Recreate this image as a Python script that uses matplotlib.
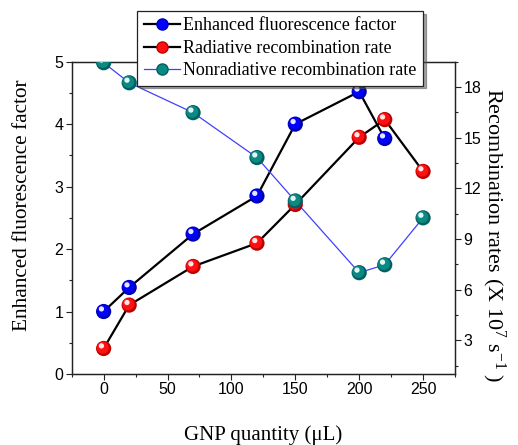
import matplotlib
matplotlib.use('Agg')
import matplotlib.pyplot as plt
from matplotlib import transforms
from matplotlib.ticker import MultipleLocator
from matplotlib.lines import Line2D

# ---- data ----
gnp_enh = [0, 20, 70, 120, 150, 200, 220]
enh_factor = [1.0, 1.385, 2.24, 2.85, 4.0, 4.52, 3.77]
gnp_rates = [0, 20, 70, 120, 150, 200, 220, 250]
rad_rate = [2.51, 5.08, 7.37, 8.75, 11.04, 15.02, 16.07, 13.0]
nonrad_rate = [19.44, 18.25, 16.48, 13.82, 11.25, 7.0, 7.47, 10.25]

labels = ["Enhanced fluorescence factor",
          "Radiative recombination rate",
          "Nonradiative recombination rate"]

plt.rcParams['mathtext.fontset'] = 'custom'
plt.rcParams['mathtext.rm'] = 'Liberation Serif'
plt.rcParams['mathtext.default'] = 'regular'

serif = 'Liberation Serif'
sans = 'Liberation Sans'

fig = plt.figure(figsize=(5.18, 4.45), dpi=100)
ax = fig.add_axes([0.1384, 0.1596, 0.740, 0.7018])
ax2 = ax.twinx()


def sphere(axis, x, y, base, mid, z):
    s = 120
    axis.scatter(x, y, s=s, color=base, edgecolors='none', zorder=z)
    off1 = transforms.offset_copy(axis.transData, fig=fig, x=-0.8, y=0.8, units='dots')
    axis.scatter(x, y, s=s * 0.62, color=mid, edgecolors='none', zorder=z + 0.1,
                 transform=off1)
    off2 = transforms.offset_copy(axis.transData, fig=fig, x=-2.2, y=2.6, units='dots')
    axis.scatter(x, y, s=s * 0.12, color='white', alpha=0.9, edgecolors='none',
                 zorder=z + 0.2, transform=off2)


ax.plot(gnp_enh, enh_factor, color='black', lw=1.6, zorder=2)
sphere(ax, gnp_enh, enh_factor, '#0000b0', '#0000ff', 3)

ax2.plot(gnp_rates, rad_rate, color='black', lw=1.6, zorder=2)
sphere(ax2, gnp_rates, rad_rate, '#c00000', '#ff1010', 3)
ax2.plot(gnp_rates, nonrad_rate, color='#4040ff', lw=0.9, zorder=2)
sphere(ax2, gnp_rates, nonrad_rate, '#005f5f', '#0a8a85', 4)

ax.set_xlim(-25, 275)
ax.set_ylim(0, 5)
ax2.set_ylim(1.0, 19.5)

ax.xaxis.set_major_locator(MultipleLocator(50))
ax.xaxis.set_minor_locator(MultipleLocator(25))
ax.yaxis.set_major_locator(MultipleLocator(1))
ax.yaxis.set_minor_locator(MultipleLocator(0.5))
ax2.yaxis.set_major_locator(MultipleLocator(3))
ax2.yaxis.set_minor_locator(MultipleLocator(1.5))

for a in (ax, ax2):
    for sp in a.spines.values():
        sp.set_linewidth(0.9)
        sp.set_color('#222222')
    a.tick_params(which='major', direction='out', length=4, width=0.8,
                  labelsize=11.5, pad=2, color='#222222')
    a.tick_params(which='minor', direction='out', length=2.5, width=0.8,
                  color='#222222')
    for lab in a.get_xticklabels() + a.get_yticklabels():
        lab.set_fontfamily(sans)

ax.set_xlabel("GNP quantity (\u03bcL)", fontfamily=serif, fontsize=15, labelpad=20)
ax.set_ylabel("Enhanced fluorescence factor", fontfamily=serif, fontsize=15.3)
ax.yaxis.set_label_coords(-0.104, 0.54)
ax2.set_ylabel("Recombination rates (X 10$^{7}$ s$^{-1}$ )", fontfamily=serif,
               fontsize=16, rotation=270)
ax2.yaxis.set_label_coords(1.136, 0.445)

handles = [
    Line2D([], [], color='black', lw=1.6, marker='o', markersize=8,
           markerfacecolor='#0000ff', markeredgecolor='#0000b0'),
    Line2D([], [], color='black', lw=1.6, marker='o', markersize=8,
           markerfacecolor='#ff1010', markeredgecolor='#c00000'),
    Line2D([], [], color='#4040ff', lw=0.9, marker='o', markersize=8,
           markerfacecolor='#0a8a85', markeredgecolor='#005f5f'),
]
leg = fig.legend(handles, labels, loc='upper left', bbox_to_anchor=(0.265, 0.975),
                 bbox_transform=fig.transFigure, frameon=True, fancybox=False,
                 shadow=True, prop={'family': serif, 'size': 13},
                 handlelength=2.0, handletextpad=0.2, labelspacing=0.3,
                 borderpad=0.35, borderaxespad=0)
leg.get_frame().set_edgecolor('#222222')
leg.get_frame().set_linewidth(0.9)
leg.set_zorder(10)

fig.savefig('out.png', dpi=100)
